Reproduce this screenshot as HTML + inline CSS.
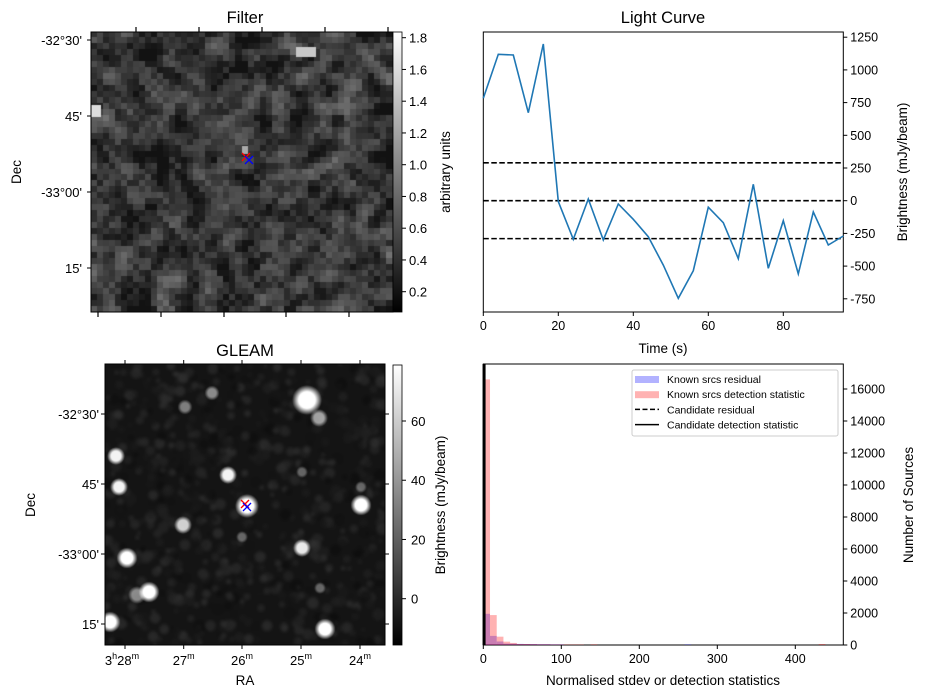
<!DOCTYPE html>
<html><head><meta charset="utf-8">
<style>
html,body{margin:0;padding:0;background:#fff;}
#wrap{position:relative;width:926px;height:699px;overflow:hidden;}
canvas{position:absolute;}
svg{position:absolute;left:0;top:0;}
text{font-family:"Liberation Sans",sans-serif;fill:#000;}
</style></head>
<body>
<div id="wrap">
<canvas id="filterImg" width="302" height="280" style="left:91px;top:32px"></canvas>
<canvas id="gleamImg" width="280" height="281" style="left:105px;top:364px"></canvas>
<svg id="svg" width="926" height="699" xmlns="http://www.w3.org/2000/svg">
<defs>
<linearGradient id="gray" x1="0" y1="1" x2="0" y2="0"><stop offset="0" stop-color="#000"/><stop offset="1" stop-color="#fff"/></linearGradient>
</defs>
<g id="static">
<text x="245" y="23" font-size="16.5" text-anchor="middle">Filter</text>
<rect x="91" y="32" width="302" height="280" fill="none" stroke="#000"/>
<rect x="393" y="32" width="9" height="280" fill="url(#gray)" stroke="#000" stroke-width="0.8"/>
<text transform="translate(450,172) rotate(-90)" font-size="13.5" text-anchor="middle">arbitrary units</text>
<text transform="translate(21,172) rotate(-90)" font-size="13.5" text-anchor="middle">Dec</text>
<text x="245" y="356" font-size="16.5" text-anchor="middle">GLEAM</text>
<rect x="105" y="364" width="280" height="281" fill="none" stroke="#000"/>
<rect x="393" y="365" width="9" height="280" fill="url(#gray)" stroke="#000" stroke-width="0.8"/>
<text transform="translate(445,505) rotate(-90)" font-size="13.5" text-anchor="middle">Brightness (mJy/beam)</text>
<text transform="translate(35,505) rotate(-90)" font-size="13.5" text-anchor="middle">Dec</text>
<text x="245" y="685" font-size="13.5" text-anchor="middle">RA</text>
<text x="663" y="23" font-size="16.5" text-anchor="middle">Light Curve</text>
<text x="663" y="353" font-size="13.5" text-anchor="middle">Time (s)</text>
<text transform="translate(907,172) rotate(-90)" font-size="13.5" text-anchor="middle">Brightness (mJy/beam)</text>
<text x="663" y="685" font-size="13.5" text-anchor="middle">Normalised stdev or detection statistics</text>
<text transform="translate(913,505) rotate(-90)" font-size="13.5" text-anchor="middle">Number of Sources</text>
</g>
<g id="dyn"></g>
</svg>
</div>
<script>
// ---------- Light curve data ----------
const lcTimes = [0,4,8,12,16,20,24,28,32,36,40,44,48,52,56,60,64,68,72,76,80,84,88,92,96];
const lcValues = [783,1119,1114,673,1198,-7,-295,13,-300,-25,-142,-275,-492,-746,-535,-50,-168,-443,125,-517,-153,-560,-86,-339,-270];
const lcThresholds = [290,0,-290];
const lcXTicks = [0,20,40,60,80];
const lcYTicks = [-750,-500,-250,0,250,500,750,1000,1250];
// ---------- Histogram data ----------
const histBinWidth = 8.6;
const histRedCounts = [16600,1870,520,210,130,60,60,50,40,40,30,30,30,30,30,0,40,0,0,0,0,0,0,0,0,0,0,0,0,0,0,0,0,0,0,0,0,0,0,0,0,0,0,0,0,0,0,0,0,0,60];
const histBlueCounts = [1950,570,220,90,80,70,60,60,50,50,40,40,0,0,0,0,0,0,0,0,0,0,0,0,0,0,0,0,0,0,40];
const histCandidate = [1];
const histXTicks = [0,100,200,300,400];
const histYTicks = [0,2000,4000,6000,8000,10000,12000,14000,16000];
const legendLabels = ["Known srcs residual","Known srcs detection statistic","Candidate residual","Candidate detection statistic"];
// ---------- Image axes labels ----------
const filterCbTicks = [0.2,0.4,0.6,0.8,1.0,1.2,1.4,1.6,1.8];
const gleamCbTicks = [0,20,40,60];
const decLabels = ["-32°30'","45'","-33°00'","15'"];
const raLabels = ["28","27","26","25","24"];
const gleamSources = [[307,400,10,1],[116,456,6,0.95],[119,487,6,0.95],[228,475,6,0.95],[247,506,8,1],[361,505,7,1],[127,558,7,1],[149,592,7,1],[110,622,7,1],[325,629,7,1],[302,548,6,0.9],[183,525,6,0.8],[212,393,5,0.5],[185,407,5,0.45],[319,418,6,0.6],[137,595,6,0.5],[302,472,4,0.35],[361,487,4,0.35],[242,537,4,0.35],[320,588,4,0.35]];

const NS="http://www.w3.org/2000/svg";
const dyn=document.getElementById('dyn');
function mk(tag,attrs,parent){const e=document.createElementNS(NS,tag);for(const k in attrs)e.setAttribute(k,attrs[k]);(parent||dyn).appendChild(e);return e;}
function txt(x,y,s,size,anchor){const t=mk('text',{x:x,y:y,'font-size':size,'text-anchor':anchor||'start'});t.textContent=s;return t;}

// ---------- Light curve ----------
const LC={l:483.3,r:843.3,t:32,b:312};
const lx=v=>LC.l+(v-0)*(LC.r-LC.l)/96;
const ly=v=>200.7-v*0.1308;
let f=mk('rect',{x:LC.l,y:LC.t,width:LC.r-LC.l,height:LC.b-LC.t,fill:'none',stroke:'#000'});


lcThresholds.forEach(v=>{const l=mk('line',{x1:LC.l,x2:LC.r,y1:ly(v),y2:ly(v),stroke:'#000','stroke-width':1.6,'stroke-dasharray':'5.5,2.5'});

});
let pts=lcTimes.map((t,i)=>lx(t).toFixed(1)+','+ly(lcValues[i]).toFixed(1)).join(' ');
let pl=mk('polyline',{points:pts,fill:'none',stroke:'#1f77b4','stroke-width':1.6});


lcXTicks.forEach(v=>{mk('line',{x1:lx(v),x2:lx(v),y1:LC.b,y2:LC.b+4,stroke:'#000'});const t=txt(lx(v),LC.b+18,String(v),12.5,'middle');

});
lcYTicks.forEach(v=>{mk('line',{x1:LC.r,x2:LC.r+4,y1:ly(v),y2:ly(v),stroke:'#000'});const t=txt(LC.r+7,ly(v)+4.5,String(v),12.5);

});

// ---------- Histogram ----------
const H={l:483.3,r:843.3,t:364,b:645};
const hx=v=>H.l+v*0.78;
const hy=v=>H.b-v*0.016;
f=mk('rect',{x:H.l,y:H.t,width:H.r-H.l,height:H.b-H.t,fill:'none',stroke:'#000'});


histBlueCounts.forEach((c,i)=>{if(!c)return;const r=mk('rect',{x:hx(i*histBinWidth),y:hy(c),width:histBinWidth*0.78,height:H.b-hy(c),fill:'rgba(0,0,255,0.3)'});

});
histRedCounts.forEach((c,i)=>{if(!c)return;const r=mk('rect',{x:hx(i*histBinWidth),y:hy(c),width:histBinWidth*0.78,height:H.b-hy(c),fill:'rgba(255,0,0,0.3)'});

});
histCandidate.forEach(v=>{const l=mk('line',{x1:hx(v),x2:hx(v),y1:H.t,y2:H.b,stroke:'#000','stroke-width':3});

});
histXTicks.forEach(v=>{mk('line',{x1:hx(v),x2:hx(v),y1:H.b,y2:H.b+4,stroke:'#000'});const t=txt(hx(v),H.b+18,String(v),12.5,'middle');

});
histYTicks.forEach(v=>{mk('line',{x1:H.r,x2:H.r+4,y1:hy(v),y2:hy(v),stroke:'#000'});const t=txt(H.r+7,hy(v)+4.5,String(v),12.5);

});
const lg=mk('rect',{x:632,y:370,width:206,height:66,rx:2,fill:'#fff','fill-opacity':0.8,stroke:'#ccc'});


legendLabels.forEach((s,i)=>{const y=379+i*15.2;
if(i==0)mk('rect',{x:635,y:y-3,width:24,height:7,fill:'rgba(0,0,255,0.3)'});
if(i==1)mk('rect',{x:635,y:y-3,width:24,height:7,fill:'rgba(255,0,0,0.3)'});
if(i==2)mk('line',{x1:635,x2:659,y1:y,y2:y,stroke:'#000','stroke-width':1.5,'stroke-dasharray':'5,2.5'});
if(i==3)mk('line',{x1:635,x2:659,y1:y,y2:y,stroke:'#000','stroke-width':1.5});
const t=txt(667,y+4,s,10.5);

});

// ---------- Filter axes ----------
const fDecY=[40,116,192,268];
decLabels.forEach((s,i)=>{mk('line',{x1:87,x2:91,y1:fDecY[i],y2:fDecY[i],stroke:'#000'});const t=txt(82,fDecY[i]+5,s,13,'end');

});
[98,161,224,286,349].forEach(x=>mk('line',{x1:x,x2:x,y1:312,y2:317,stroke:'#000','stroke-width':1.2}));
[136,199,262,325,388].forEach(x=>mk('line',{x1:x,x2:x,y1:27,y2:32,stroke:'#000','stroke-width':1.2}));
const fcb=v=>291.7-(v-0.2)*(291.7-37.7)/1.6;
filterCbTicks.forEach(v=>{mk('line',{x1:402,x2:406,y1:fcb(v),y2:fcb(v),stroke:'#000'});const t=txt(409,fcb(v)+5,v.toFixed(1),13);

});
// ---------- GLEAM axes ----------
const gDecY=[414,484,554,624];
decLabels.forEach((s,i)=>{mk('line',{x1:101,x2:105,y1:gDecY[i],y2:gDecY[i],stroke:'#000'});mk('line',{x1:385,x2:389,y1:gDecY[i],y2:gDecY[i],stroke:'#000'});const t=txt(99,gDecY[i]+5,s,13,'end');

});
const gRaX=[125,183.7,242,301,360];
raLabels.forEach((s,i)=>{const x=gRaX[i];mk('line',{x1:x,x2:x,y1:645,y2:649,stroke:'#000'});mk('line',{x1:x,x2:x,y1:360,y2:364,stroke:'#000'});
const t=mk('text',{x:x,y:665,'font-size':13,'text-anchor':'middle'});


if(i==0){t.innerHTML='3<tspan font-size="9" dy="-6">h</tspan><tspan dy="6">28</tspan><tspan font-size="9" dy="-6">m</tspan>';t.setAttribute('x',x-3);}
else t.innerHTML=s+'<tspan font-size="9" dy="-6">m</tspan>';});
const gcb=v=>598.7-v*(598.7-421)/60;
gleamCbTicks.forEach(v=>{mk('line',{x1:402,x2:406,y1:gcb(v),y2:gcb(v),stroke:'#000'});const t=txt(411,gcb(v)+5,String(v),13);

});
function cross(x,y,c,n){const g=mk('g',{stroke:c,'stroke-width':1.3});mk('line',{x1:x-4,y1:y-4,x2:x+4,y2:y+4},g);mk('line',{x1:x-4,y1:y+4,x2:x+4,y2:y-4},g);

}
cross(246,157,'red','filter-marker-red');cross(249,160,'blue','filter-marker-blue');
cross(245,504,'red','gleam-marker-red');cross(247,507,'blue','gleam-marker-blue');

// ---------- images (noise textures) ----------
let seed=987654;function rnd(){seed=(seed*1103515245+12345)&0x7fffffff;return seed/0x7fffffff;}
(function(){const c=document.getElementById('filterImg').getContext('2d');const cols=50,rows=47;const cw=302/cols,ch=280/rows;
let g=[];for(let j=0;j<rows;j++){g[j]=[];for(let i=0;i<cols;i++)g[j][i]=rnd();}
for(let j=0;j<rows;j++)for(let i=0;i<cols;i++){let s=0,n=0;for(let dj=-1;dj<=1;dj++)for(let di=-1;di<=1;di++){const a=g[j+dj]&&g[j+dj][i+di];if(a!==undefined){const w=(di==0&&dj==0?4:1);s+=a*w;n+=w;}}
let v=s/n;v=Math.max(0,Math.min(1,(v-0.5)*1.6+0.35));const k=Math.round(18+v*110);
c.fillStyle=`rgb(${k},${k},${k})`;c.fillRect(Math.floor(i*cw),Math.floor(j*ch),Math.ceil(cw)+1,Math.ceil(ch)+1);}
c.fillStyle='#ddd';c.fillRect(0,73,10,12);c.fillStyle='#bbb';c.fillRect(818-768,0,0,0);
c.fillStyle='#c8c8c8';c.fillRect(205,15,20,10);
c.fillStyle='#aaa';c.fillRect(151,114,6,8);})();
(function(){const cv=document.getElementById('gleamImg');const c=cv.getContext('2d');c.fillStyle='#141414';c.fillRect(0,0,280,281);
for(let k=0;k<900;k++){const x=rnd()*280,y=rnd()*281,r=2+rnd()*4,v=Math.round(10+rnd()*45);c.fillStyle=`rgba(${v},${v},${v},0.6)`;c.beginPath();c.arc(x,y,r,0,7);c.fill();}
c.filter='blur(1.5px)';c.drawImage(cv,0,0);c.filter='none';
gleamSources.forEach(s=>{const x=s[0]-105,y=s[1]-364,r=s[2],a=s[3];const gr=c.createRadialGradient(x,y,0,x,y,r*1.5);
gr.addColorStop(0,`rgba(255,255,255,${a})`);gr.addColorStop(0.55,`rgba(255,255,255,${a})`);gr.addColorStop(1,'rgba(255,255,255,0)');c.fillStyle=gr;c.beginPath();c.arc(x,y,r*1.5,0,7);c.fill();});})();
</script>
</body></html>
